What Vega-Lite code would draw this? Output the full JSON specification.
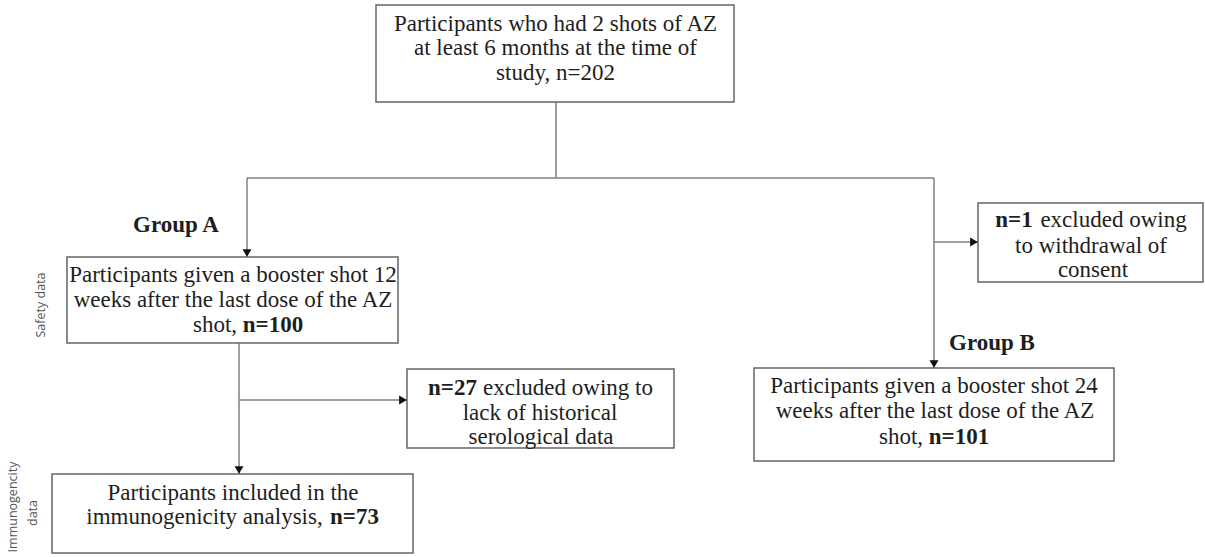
{
  "$schema": "https://vega.github.io/schema/vega-lite/v6.json",
  "width": 1205,
  "height": 557,
  "padding": 0,
  "autosize": {"type": "none"},
  "background": "white",
  "config": {"view": {"stroke": null}},
  "datasets": {
    "boxes": [
      {"x": 376, "x2": 734, "y": 5, "y2": 102},
      {"x": 67, "x2": 398, "y": 257, "y2": 343},
      {"x": 407, "x2": 674, "y": 369, "y2": 448},
      {"x": 978, "x2": 1203, "y": 203, "y2": 282},
      {"x": 754, "x2": 1114, "y": 368, "y2": 461},
      {"x": 52, "x2": 413, "y": 474, "y2": 553}
    ],
    "lines": [
      {"x": 556, "x2": 556, "y": 102, "y2": 178},
      {"x": 247, "x2": 934, "y": 178, "y2": 178},
      {"x": 247, "x2": 247, "y": 178, "y2": 257},
      {"x": 934, "x2": 934, "y": 178, "y2": 368},
      {"x": 934, "x2": 978, "y": 242, "y2": 242},
      {"x": 239, "x2": 239, "y": 343, "y2": 474},
      {"x": 239, "x2": 407, "y": 400, "y2": 400}
    ],
    "arrowsDown": [
      {"x": 247, "y": 257},
      {"x": 934, "y": 368},
      {"x": 239, "y": 474}
    ],
    "arrowsRight": [
      {"x": 978, "y": 242},
      {"x": 407, "y": 400}
    ],
    "plain": [
      {"x": 555.5, "y": 31, "t": "Participants who had 2 shots of AZ"},
      {"x": 555.5, "y": 55, "t": "at least 6 months at the time of"},
      {"x": 555.5, "y": 80, "t": "study, n=202"},
      {"x": 233, "y": 282, "t": "Participants given a booster shot 12"},
      {"x": 233, "y": 307, "t": "weeks after the last dose of the AZ"},
      {"x": 215, "y": 332, "t": "shot,"},
      {"x": 568, "y": 395, "t": "excluded owing to"},
      {"x": 540, "y": 420, "t": "lack of historical"},
      {"x": 541, "y": 444, "t": "serological data"},
      {"x": 1113.5, "y": 227, "t": "excluded owing"},
      {"x": 1091, "y": 253, "t": "to withdrawal of"},
      {"x": 1093, "y": 277, "t": "consent"},
      {"x": 934, "y": 393, "t": "Participants given a booster shot 24"},
      {"x": 935, "y": 418, "t": "weeks after the last dose of the AZ"},
      {"x": 901, "y": 444, "t": "shot,"},
      {"x": 233, "y": 500, "t": "Participants included in the"},
      {"x": 204.5, "y": 524, "t": "immunogenicity analysis,"}
    ],
    "bold": [
      {"x": 176, "y": 232, "t": "Group A"},
      {"x": 992, "y": 350, "t": "Group B"},
      {"x": 273, "y": 332, "t": "n=100"},
      {"x": 452.5, "y": 395, "t": "n=27"},
      {"x": 1014, "y": 227, "t": "n=1"},
      {"x": 959, "y": 444, "t": "n=101"},
      {"x": 354.5, "y": 524, "t": "n=73"}
    ],
    "side": [
      {"x": 41, "y": 305, "t": "Safety data"},
      {"x": 13, "y": 507, "t": "Immunogencity"},
      {"x": 33, "y": 513, "t": "data"}
    ]
  },
  "encoding": {
    "x": {"field": "x", "type": "quantitative", "scale": {"domain": [0, 1205], "nice": false, "zero": false}, "axis": null},
    "y": {"field": "y", "type": "quantitative", "scale": {"domain": [0, 557], "nice": false, "zero": false, "reverse": true}, "axis": null}
  },
  "layer": [
    {
      "data": {"name": "lines"},
      "mark": {"type": "rule", "stroke": "#808080", "strokeWidth": 1.5},
      "encoding": {"x2": {"field": "x2"}, "y2": {"field": "y2"}}
    },
    {
      "data": {"name": "boxes"},
      "mark": {"type": "rect", "fill": "white", "stroke": "#666666", "strokeWidth": 1.5},
      "encoding": {"x2": {"field": "x2"}, "y2": {"field": "y2"}}
    },
    {
      "data": {"name": "arrowsDown"},
      "mark": {"type": "point", "shape": "triangle-down", "filled": true, "fill": "#111", "stroke": null, "size": 80, "opacity": 1, "yOffset": -4}
    },
    {
      "data": {"name": "arrowsRight"},
      "mark": {"type": "point", "shape": "triangle-right", "filled": true, "fill": "#111", "stroke": null, "size": 80, "opacity": 1, "xOffset": -4}
    },
    {
      "data": {"name": "plain"},
      "mark": {"type": "text", "font": "Liberation Serif", "fontSize": 23, "align": "center", "baseline": "alphabetic", "fill": "#1e1e1e"},
      "encoding": {"text": {"field": "t"}}
    },
    {
      "data": {"name": "bold"},
      "mark": {"type": "text", "font": "Liberation Serif", "fontSize": 23, "fontWeight": "bold", "align": "center", "baseline": "alphabetic", "fill": "#1e1e1e"},
      "encoding": {"text": {"field": "t"}}
    },
    {
      "data": {"name": "side"},
      "mark": {"type": "text", "font": "Open Sans", "fontSize": 12.5, "angle": 270, "align": "center", "baseline": "middle", "fill": "#555"},
      "encoding": {"text": {"field": "t"}}
    }
  ]
}
